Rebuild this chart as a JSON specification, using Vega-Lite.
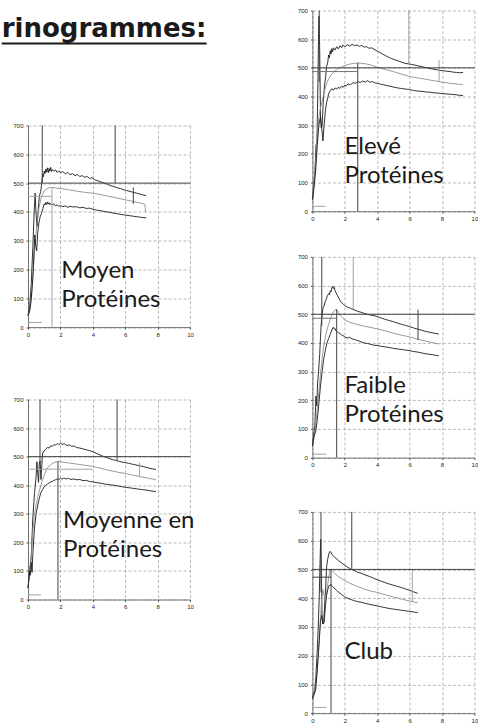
{
"$schema":"https://vega.github.io/schema/vega-lite/v6.json",
"background":"white",
"padding":{"left":0,"top":7.5,"right":0,"bottom":0},
"config":{"view":{"stroke":null},"axis":{"labelFont":"Liberation Sans","labelFontSize":6,"labelColor":"#222","labelFlush":false,"labelOverlap":false,"labelBound":false,"domainColor":"#555","domainWidth":0.8,"tickColor":"#555","tickSize":2,"labelPadding":2,"gridColor":"#8c8c8c","gridDash":[3,2],"gridWidth":0.6},"axisY":{"labelPadding":3}},
"datasets":{
"curves":[
{"p":"P1","s":"u","x":[0,0.1,0.2,0.3,0.38,0.44,0.5,0.56,0.62,0.7,0.78,0.85,0.9,0.95,1.0,1.05,1.1,1.15,1.2,1.25,1.3,1.35,1.4,1.45,1.5,1.6,1.7,1.8,1.9,2.0,2.15,2.3,2.45,2.6,2.75,2.9,3.05,3.2,3.35,3.5,3.65,3.8,3.95,4.1,4.3,4.5,4.7,4.9,5.1,5.3,5.5,5.7,5.9,6.1,6.3,6.5,6.7,6.9,7.1,7.3],"y":[40,70,150,280,400,465,390,350,400,455,470,500,530,522,542,533,549,538,553,536,551,541,555,540,547,541,546,537,543,536,540,532,537,529,533,526,530,523,526,520,523,516,519,512,508,504,500,496,491,488,484,481,477,474,471,468,465,462,459,456]},
{"p":"P1","s":"m","x":[0,0.1,0.2,0.3,0.4,0.5,0.6,0.7,0.8,0.9,1.0,1.15,1.3,1.45,1.7,2.0,2.5,3.0,3.5,4.0,4.5,5.0,5.5,6.0,6.5,7.0,7.22,7.26],"y":[40,55,100,180,260,330,385,420,445,462,473,480,484,485,483,481,477,472,468,465,460,454,448,442,436,430,426,398]},
{"p":"P1","s":"l","x":[0,0.1,0.2,0.3,0.36,0.42,0.48,0.54,0.6,0.68,0.76,0.84,0.92,1.0,1.05,1.1,1.15,1.2,1.25,1.3,1.35,1.4,1.5,1.6,1.7,1.8,1.9,2.0,2.15,2.3,2.45,2.6,2.8,3.0,3.2,3.4,3.6,3.8,4.0,4.25,4.5,4.75,5.0,5.25,5.5,5.75,6.0,6.25,6.5,6.75,7.0,7.3],"y":[40,55,95,170,250,320,280,265,330,365,385,395,412,428,424,433,426,434,427,432,425,429,424,428,421,425,419,422,418,421,416,419,417,418,414,416,412,413,409,406,404,401,399,396,394,391,389,387,385,383,381,379]},
{"p":"P2","s":"u","x":[0,0.1,0.2,0.3,0.4,0.5,0.55,0.6,0.65,0.7,0.75,0.8,0.85,0.9,1.0,1.1,1.2,1.3,1.4,1.5,1.6,1.7,1.8,1.9,2.0,2.1,2.25,2.4,2.55,2.7,2.85,3.0,3.2,3.4,3.6,3.8,4.0,4.2,4.4,4.6,4.8,5.0,5.2,5.4,5.6,5.8,6.0,6.2,6.4,6.6,6.8,7.0,7.2,7.4,7.6,7.9],"y":[40,100,150,290,370,430,482,440,410,478,485,420,468,512,520,527,532,530,538,536,542,540,546,541,548,543,545,539,541,536,537,532,530,527,524,521,517,512,507,502,498,494,490,487,484,481,479,477,474,472,469,467,464,461,458,455]},
{"p":"P2","s":"m","x":[0,0.1,0.2,0.3,0.4,0.5,0.6,0.7,0.8,0.9,1.0,1.1,1.2,1.4,1.6,1.85,2.1,2.5,3.0,3.5,4.0,4.5,5.0,5.5,6.0,6.5,7.0,7.5,7.9],"y":[40,90,150,240,300,330,360,380,400,420,435,450,460,472,479,483,481,478,474,470,466,459,452,446,441,435,429,424,419]},
{"p":"P2","s":"l","x":[0,0.1,0.15,0.2,0.25,0.3,0.4,0.5,0.6,0.7,0.8,0.9,1.0,1.1,1.2,1.3,1.4,1.5,1.6,1.7,1.8,1.9,2.0,2.1,2.2,2.35,2.5,2.65,2.8,3.0,3.2,3.4,3.6,3.8,4.0,4.25,4.5,4.75,5.0,5.25,5.5,5.75,6.0,6.25,6.5,6.75,7.0,7.3,7.6,7.9],"y":[40,100,85,130,95,160,250,300,330,355,375,385,395,400,404,408,411,413,417,419,422,420,424,421,425,422,424,420,422,419,420,416,417,413,412,409,407,404,402,400,398,395,393,391,389,387,385,383,380,378]},
{"p":"P3","s":"u","x":[0,0.08,0.16,0.22,0.28,0.34,0.38,0.41,0.45,0.5,0.55,0.6,0.68,0.75,0.82,0.88,0.95,1.0,1.05,1.1,1.15,1.2,1.25,1.3,1.4,1.5,1.6,1.7,1.8,1.9,2.0,2.15,2.3,2.45,2.6,2.75,2.9,3.05,3.2,3.35,3.5,3.65,3.8,3.95,4.1,4.3,4.5,4.7,4.9,5.1,5.3,5.5,5.7,5.9,6.1,6.3,6.5,6.7,6.9,7.1,7.3,7.5,7.7,7.9,8.1,8.3,8.5,8.7,8.9,9.1,9.3],"y":[40,90,140,230,240,450,620,680,560,330,290,300,390,440,470,505,520,545,535,560,548,567,556,570,562,574,566,577,570,580,574,581,576,582,577,580,575,578,572,574,568,570,565,560,556,549,543,537,532,528,524,520,516,514,512,510,507,505,502,500,497,495,493,491,490,488,487,485,484,483,484]},
{"p":"P3","s":"m","x":[0,0.1,0.2,0.3,0.4,0.5,0.6,0.7,0.8,0.9,1.0,1.2,1.4,1.6,1.8,2.0,2.3,2.6,2.8,3.0,3.3,3.6,4.0,4.5,5.0,5.5,6.0,6.5,7.0,7.5,8.0,8.5,9.0,9.3],"y":[40,100,170,260,330,360,385,410,430,448,462,478,490,498,503,508,513,516,517,516,514,510,502,494,487,478,470,465,460,455,450,446,443,442]},
{"p":"P3","s":"l","x":[0,0.1,0.2,0.3,0.4,0.5,0.58,0.65,0.72,0.8,0.88,0.95,1.0,1.1,1.2,1.3,1.4,1.5,1.6,1.7,1.8,1.9,2.0,2.1,2.2,2.35,2.5,2.65,2.8,2.95,3.1,3.25,3.4,3.55,3.7,3.85,4.0,4.2,4.4,4.6,4.8,5.0,5.25,5.5,5.75,6.0,6.25,6.5,6.75,7.0,7.25,7.5,7.75,8.0,8.25,8.5,8.75,9.0,9.3],"y":[40,80,140,230,300,330,290,245,300,350,380,395,410,420,427,422,430,426,433,428,436,432,440,437,444,441,448,446,452,449,454,450,455,450,452,448,446,443,441,438,436,433,430,428,426,424,421,419,418,416,415,413,412,410,409,408,407,405,403]},
{"p":"P4","s":"u","x":[0,0.08,0.15,0.22,0.27,0.32,0.38,0.45,0.5,0.55,0.6,0.65,0.72,0.8,0.87,0.93,1.0,1.05,1.1,1.15,1.2,1.25,1.3,1.35,1.4,1.5,1.6,1.7,1.8,1.9,2.0,2.15,2.3,2.45,2.6,2.8,3.0,3.2,3.4,3.6,3.8,4.0,4.25,4.5,4.75,5.0,5.25,5.5,5.75,6.0,6.25,6.5,6.75,7.0,7.25,7.5,7.8],"y":[40,80,110,215,180,260,300,360,420,470,500,520,530,545,555,565,572,568,582,578,592,598,590,594,582,570,560,548,540,536,530,525,522,518,515,510,507,503,500,497,495,492,487,482,478,474,469,465,461,457,452,448,444,440,437,434,431]},
{"p":"P4","s":"m","x":[0,0.1,0.2,0.3,0.4,0.5,0.6,0.7,0.8,0.9,1.0,1.1,1.2,1.3,1.4,1.48,1.55,1.65,1.8,2.0,2.3,2.6,3.0,3.5,4.0,4.5,5.0,5.5,6.0,6.5,7.0,7.5,7.8],"y":[40,70,110,170,230,290,345,390,420,445,465,482,497,508,515,517,512,503,492,480,472,467,461,455,449,442,434,427,421,413,406,400,396]},
{"p":"P4","s":"l","x":[0,0.1,0.2,0.3,0.4,0.5,0.6,0.7,0.8,0.9,1.0,1.1,1.2,1.25,1.3,1.35,1.4,1.45,1.5,1.6,1.7,1.8,1.9,2.0,2.15,2.3,2.45,2.6,2.8,3.0,3.2,3.4,3.6,3.8,4.0,4.25,4.5,4.75,5.0,5.25,5.5,5.75,6.0,6.25,6.5,6.75,7.0,7.25,7.5,7.8],"y":[40,75,90,130,190,250,300,345,375,400,415,430,445,452,455,448,450,442,440,436,432,428,425,421,417,420,414,412,408,404,400,398,395,392,391,388,386,384,381,379,377,375,373,370,368,365,362,360,358,355]},
{"p":"P5","s":"u","x":[0,0.08,0.15,0.22,0.3,0.36,0.42,0.47,0.51,0.55,0.6,0.65,0.7,0.76,0.82,0.88,0.94,1.0,1.05,1.1,1.2,1.3,1.45,1.6,1.8,2.0,2.2,2.4,2.6,2.8,3.0,3.25,3.5,3.75,4.0,4.25,4.5,4.75,5.0,5.25,5.5,5.75,6.0,6.25,6.5],"y":[50,70,85,130,220,300,400,520,605,500,330,310,315,380,440,510,535,550,560,563,553,546,539,531,523,514,507,500,496,490,487,481,476,470,464,459,454,449,445,441,437,432,427,422,417]},
{"p":"P5","s":"m","x":[0,0.1,0.2,0.3,0.4,0.5,0.58,0.65,0.72,0.8,0.9,1.0,1.07,1.13,1.2,1.3,1.45,1.6,1.8,2.0,2.3,2.6,3.0,3.5,4.0,4.5,5.0,5.5,6.0,6.5],"y":[50,65,90,150,240,330,400,430,410,395,430,470,492,500,496,490,482,475,468,461,452,445,436,426,420,412,404,397,390,384]},
{"p":"P5","s":"l","x":[0,0.1,0.2,0.3,0.4,0.5,0.58,0.65,0.72,0.8,0.88,0.95,1.0,1.05,1.1,1.15,1.2,1.3,1.4,1.5,1.6,1.8,2.0,2.2,2.4,2.6,2.8,3.0,3.25,3.5,3.75,4.0,4.25,4.5,4.75,5.0,5.25,5.5,5.75,6.0,6.25,6.5],"y":[50,65,80,150,230,320,340,310,315,370,410,430,440,446,443,448,444,438,432,427,421,413,404,399,395,391,388,386,382,379,376,373,370,367,364,362,360,358,356,354,352,350]}
],
"vlines":[
{"p":"P1","x":0.88,"y":500,"y2":700,"k":"dark"},{"p":"P1","x":5.38,"y":500,"y2":700,"k":"dark"},{"p":"P1","x":1.48,"y":0,"y2":485,"k":"gray"},{"p":"P1","x":6.5,"y":427,"y2":485,"k":"dark"},
{"p":"P2","x":0.74,"y":480,"y2":700,"k":"dark"},{"p":"P2","x":5.5,"y":488,"y2":700,"k":"dark"},{"p":"P2","x":1.85,"y":0,"y2":483,"k":"dark"},{"p":"P2","x":6.88,"y":430,"y2":480,"k":"gray"},
{"p":"P3","x":0.42,"y":450,"y2":700,"k":"dark"},{"p":"P3","x":5.95,"y":516,"y2":700,"k":"gray"},{"p":"P3","x":2.8,"y":0,"y2":517,"k":"dark"},{"p":"P3","x":7.82,"y":450,"y2":527,"k":"gray"},
{"p":"P4","x":0.58,"y":460,"y2":700,"k":"dark"},{"p":"P4","x":2.52,"y":518,"y2":700,"k":"gray"},{"p":"P4","x":1.5,"y":0,"y2":517,"k":"dark"},{"p":"P4","x":6.52,"y":410,"y2":516,"k":"dark"},
{"p":"P5","x":0.53,"y":420,"y2":700,"k":"dark"},{"p":"P5","x":2.43,"y":502,"y2":700,"k":"dark"},{"p":"P5","x":1.15,"y":0,"y2":500,"k":"dark"},{"p":"P5","x":6.17,"y":388,"y2":500,"k":"gray"}
],
"hlines":[
{"p":"P1","y":500,"x":0,"x2":10,"k":"dark"},{"p":"P1","y":454,"x":0,"x2":1.48,"k":"gray"},{"p":"P1","y":16,"x":0,"x2":0.85,"k":"gray"},
{"p":"P2","y":500,"x":0,"x2":10,"k":"dark"},{"p":"P2","y":456,"x":0,"x2":4.0,"k":"gray"},{"p":"P2","y":16,"x":0,"x2":0.8,"k":"gray"},
{"p":"P3","y":500,"x":0,"x2":10,"k":"dark"},{"p":"P3","y":487,"x":0,"x2":2.8,"k":"mid"},{"p":"P3","y":17,"x":0,"x2":0.82,"k":"gray"},
{"p":"P4","y":500,"x":0,"x2":10,"k":"dark"},{"p":"P4","y":486,"x":0,"x2":1.5,"k":"mid"},{"p":"P4","y":12,"x":0,"x2":0.85,"k":"gray"},
{"p":"P5","y":500,"x":0,"x2":10,"k":"dark"},{"p":"P5","y":473,"x":0,"x2":1.15,"k":"dark"},{"p":"P5","y":20,"x":0,"x2":0.85,"k":"gray"}
]
},
"spacing":88.4,
"hconcat":[
{"spacing":59,"vconcat":[
 {"width":179,"height":52.7,"data":{"values":[{"t":"rinogrammes:"}]},"layer":[
  {"mark":{"type":"text","align":"left","baseline":"alphabetic","font":"DejaVu Sans","fontSize":26,"fontWeight":"bold","color":"#1a1a1a"},"encoding":{"x":{"datum":-0.147,"type":"quantitative","scale":{"domain":[0,1],"nice":false},"axis":null},"y":{"datum":0.497,"type":"quantitative","scale":{"domain":[0,1],"nice":false},"axis":null},"text":{"field":"t"}}},
  {"mark":{"type":"rule","strokeWidth":2,"color":"#1a1a1a"},"encoding":{"x":{"datum":-0.147,"type":"quantitative","axis":null},"x2":{"datum":0.998},"y":{"datum":0.374,"type":"quantitative","axis":null}}}
 ]},
 {"width":162,"height":201.6,"layer":[
  {"data":{"name":"curves"},"transform":[{"filter":"datum.p==='P1'"},{"flatten":["x","y"]}],"mark":{"type":"line","strokeWidth":0.9},"encoding":{"x":{"field":"x","type":"quantitative","title":null,"scale":{"domain":[0,10],"nice":false},"axis":{"values":[0,2,4,6,8,10]}},"y":{"field":"y","type":"quantitative","title":null,"scale":{"domain":[0,700],"nice":false},"axis":{"values":[0,100,200,300,400,500,600,700]}},"color":{"field":"s","type":"nominal","scale":{"domain":["u","m","l","dark","gray","mid"],"range":["#1c1c1c","#8e8e8e","#1c1c1c","#404040","#a3a3a3","#707070"]},"legend":null}}},
  {"data":{"name":"vlines"},"transform":[{"filter":"datum.p==='P1'"}],"mark":{"type":"rule","strokeWidth":1},"encoding":{"x":{"field":"x","type":"quantitative","title":null,"axis":{"values":[0,2,4,6,8,10]}},"y":{"field":"y","type":"quantitative","title":null,"axis":{"values":[0,100,200,300,400,500,600,700]}},"y2":{"field":"y2"},"color":{"field":"k","type":"nominal","legend":null}}},
  {"data":{"name":"hlines"},"transform":[{"filter":"datum.p==='P1'"}],"mark":{"type":"rule","strokeWidth":1},"encoding":{"x":{"field":"x","type":"quantitative","title":null,"axis":{"values":[0,2,4,6,8,10]}},"x2":{"field":"x2"},"y":{"field":"y","type":"quantitative","title":null,"axis":{"values":[0,100,200,300,400,500,600,700]}},"color":{"field":"k","type":"nominal","legend":null}}},
  {"data":{"values":[{"t":"Moyen\nProtéines"}]},"mark":{"type":"text","align":"left","baseline":"alphabetic","font":"Lato","fontSize":24,"lineBreak":"\n","lineHeight":29,"color":"#1a1a1a"},"encoding":{"x":{"datum":2.05,"type":"quantitative","title":null,"axis":{"values":[0,2,4,6,8,10]}},"y":{"datum":170,"type":"quantitative","title":null,"axis":{"values":[0,100,200,300,400,500,600,700]}},"text":{"field":"t"}}}
 ]},
 {"width":162,"height":200,"layer":[
  {"data":{"name":"curves"},"transform":[{"filter":"datum.p==='P2'"},{"flatten":["x","y"]}],"mark":{"type":"line","strokeWidth":0.9},"encoding":{"x":{"field":"x","type":"quantitative","title":null,"scale":{"domain":[0,10],"nice":false},"axis":{"values":[0,2,4,6,8,10]}},"y":{"field":"y","type":"quantitative","title":null,"scale":{"domain":[0,700],"nice":false},"axis":{"values":[0,100,200,300,400,500,600,700]}},"color":{"field":"s","type":"nominal","scale":{"domain":["u","m","l","dark","gray","mid"],"range":["#1c1c1c","#8e8e8e","#1c1c1c","#404040","#a3a3a3","#707070"]},"legend":null}}},
  {"data":{"name":"vlines"},"transform":[{"filter":"datum.p==='P2'"}],"mark":{"type":"rule","strokeWidth":1},"encoding":{"x":{"field":"x","type":"quantitative","title":null,"axis":{"values":[0,2,4,6,8,10]}},"y":{"field":"y","type":"quantitative","title":null,"axis":{"values":[0,100,200,300,400,500,600,700]}},"y2":{"field":"y2"},"color":{"field":"k","type":"nominal","legend":null}}},
  {"data":{"name":"hlines"},"transform":[{"filter":"datum.p==='P2'"}],"mark":{"type":"rule","strokeWidth":1},"encoding":{"x":{"field":"x","type":"quantitative","title":null,"axis":{"values":[0,2,4,6,8,10]}},"x2":{"field":"x2"},"y":{"field":"y","type":"quantitative","title":null,"axis":{"values":[0,100,200,300,400,500,600,700]}},"color":{"field":"k","type":"nominal","legend":null}}},
  {"data":{"values":[{"t":"Moyenne en\nProtéines"}]},"mark":{"type":"text","align":"left","baseline":"alphabetic","font":"Lato","fontSize":24,"lineBreak":"\n","lineHeight":29,"color":"#1a1a1a"},"encoding":{"x":{"datum":2.16,"type":"quantitative","title":null,"axis":{"values":[0,2,4,6,8,10]}},"y":{"datum":250,"type":"quantitative","title":null,"axis":{"values":[0,100,200,300,400,500,600,700]}},"text":{"field":"t"}}}
 ]}
]},
{"spacing":32.4,"vconcat":[
 {"width":162,"height":200.7,"layer":[
  {"data":{"name":"curves"},"transform":[{"filter":"datum.p==='P3'"},{"flatten":["x","y"]}],"mark":{"type":"line","strokeWidth":0.9},"encoding":{"x":{"field":"x","type":"quantitative","title":null,"scale":{"domain":[0,10],"nice":false},"axis":{"values":[0,2,4,6,8,10]}},"y":{"field":"y","type":"quantitative","title":null,"scale":{"domain":[0,700],"nice":false},"axis":{"values":[0,100,200,300,400,500,600,700]}},"color":{"field":"s","type":"nominal","scale":{"domain":["u","m","l","dark","gray","mid"],"range":["#1c1c1c","#8e8e8e","#1c1c1c","#404040","#a3a3a3","#707070"]},"legend":null}}},
  {"data":{"name":"vlines"},"transform":[{"filter":"datum.p==='P3'"}],"mark":{"type":"rule","strokeWidth":1},"encoding":{"x":{"field":"x","type":"quantitative","title":null,"axis":{"values":[0,2,4,6,8,10]}},"y":{"field":"y","type":"quantitative","title":null,"axis":{"values":[0,100,200,300,400,500,600,700]}},"y2":{"field":"y2"},"color":{"field":"k","type":"nominal","legend":null}}},
  {"data":{"name":"hlines"},"transform":[{"filter":"datum.p==='P3'"}],"mark":{"type":"rule","strokeWidth":1},"encoding":{"x":{"field":"x","type":"quantitative","title":null,"axis":{"values":[0,2,4,6,8,10]}},"x2":{"field":"x2"},"y":{"field":"y","type":"quantitative","title":null,"axis":{"values":[0,100,200,300,400,500,600,700]}},"color":{"field":"k","type":"nominal","legend":null}}},
  {"data":{"values":[{"t":"Elevé\nProtéines"}]},"mark":{"type":"text","align":"left","baseline":"alphabetic","font":"Lato","fontSize":24,"lineBreak":"\n","lineHeight":29,"color":"#1a1a1a"},"encoding":{"x":{"datum":1.98,"type":"quantitative","title":null,"axis":{"values":[0,2,4,6,8,10]}},"y":{"datum":198,"type":"quantitative","title":null,"axis":{"values":[0,100,200,300,400,500,600,700]}},"text":{"field":"t"}}}
 ]},
 {"spacing":41,"vconcat":[
 {"width":162,"height":200.7,"layer":[
  {"data":{"name":"curves"},"transform":[{"filter":"datum.p==='P4'"},{"flatten":["x","y"]}],"mark":{"type":"line","strokeWidth":0.9},"encoding":{"x":{"field":"x","type":"quantitative","title":null,"scale":{"domain":[0,10],"nice":false},"axis":{"values":[0,2,4,6,8,10]}},"y":{"field":"y","type":"quantitative","title":null,"scale":{"domain":[0,700],"nice":false},"axis":{"values":[0,100,200,300,400,500,600,700]}},"color":{"field":"s","type":"nominal","scale":{"domain":["u","m","l","dark","gray","mid"],"range":["#1c1c1c","#8e8e8e","#1c1c1c","#404040","#a3a3a3","#707070"]},"legend":null}}},
  {"data":{"name":"vlines"},"transform":[{"filter":"datum.p==='P4'"}],"mark":{"type":"rule","strokeWidth":1},"encoding":{"x":{"field":"x","type":"quantitative","title":null,"axis":{"values":[0,2,4,6,8,10]}},"y":{"field":"y","type":"quantitative","title":null,"axis":{"values":[0,100,200,300,400,500,600,700]}},"y2":{"field":"y2"},"color":{"field":"k","type":"nominal","legend":null}}},
  {"data":{"name":"hlines"},"transform":[{"filter":"datum.p==='P4'"}],"mark":{"type":"rule","strokeWidth":1},"encoding":{"x":{"field":"x","type":"quantitative","title":null,"axis":{"values":[0,2,4,6,8,10]}},"x2":{"field":"x2"},"y":{"field":"y","type":"quantitative","title":null,"axis":{"values":[0,100,200,300,400,500,600,700]}},"color":{"field":"k","type":"nominal","legend":null}}},
  {"data":{"values":[{"t":"Faible\nProtéines"}]},"mark":{"type":"text","align":"left","baseline":"alphabetic","font":"Lato","fontSize":24,"lineBreak":"\n","lineHeight":29,"color":"#1a1a1a"},"encoding":{"x":{"datum":1.98,"type":"quantitative","title":null,"axis":{"values":[0,2,4,6,8,10]}},"y":{"datum":227,"type":"quantitative","title":null,"axis":{"values":[0,100,200,300,400,500,600,700]}},"text":{"field":"t"}}}
 ]},
 {"width":162,"height":201.3,"layer":[
  {"data":{"name":"curves"},"transform":[{"filter":"datum.p==='P5'"},{"flatten":["x","y"]}],"mark":{"type":"line","strokeWidth":0.9},"encoding":{"x":{"field":"x","type":"quantitative","title":null,"scale":{"domain":[0,10],"nice":false},"axis":{"values":[0,2,4,6,8,10]}},"y":{"field":"y","type":"quantitative","title":null,"scale":{"domain":[0,700],"nice":false},"axis":{"values":[0,100,200,300,400,500,600,700]}},"color":{"field":"s","type":"nominal","scale":{"domain":["u","m","l","dark","gray","mid"],"range":["#1c1c1c","#8e8e8e","#1c1c1c","#404040","#a3a3a3","#707070"]},"legend":null}}},
  {"data":{"name":"vlines"},"transform":[{"filter":"datum.p==='P5'"}],"mark":{"type":"rule","strokeWidth":1},"encoding":{"x":{"field":"x","type":"quantitative","title":null,"axis":{"values":[0,2,4,6,8,10]}},"y":{"field":"y","type":"quantitative","title":null,"axis":{"values":[0,100,200,300,400,500,600,700]}},"y2":{"field":"y2"},"color":{"field":"k","type":"nominal","legend":null}}},
  {"data":{"name":"hlines"},"transform":[{"filter":"datum.p==='P5'"}],"mark":{"type":"rule","strokeWidth":1},"encoding":{"x":{"field":"x","type":"quantitative","title":null,"axis":{"values":[0,2,4,6,8,10]}},"x2":{"field":"x2"},"y":{"field":"y","type":"quantitative","title":null,"axis":{"values":[0,100,200,300,400,500,600,700]}},"color":{"field":"k","type":"nominal","legend":null}}},
  {"data":{"values":[{"t":"Club"}]},"mark":{"type":"text","align":"left","baseline":"alphabetic","font":"Lato","fontSize":24,"color":"#1a1a1a"},"encoding":{"x":{"datum":1.98,"type":"quantitative","title":null,"axis":{"values":[0,2,4,6,8,10]}},"y":{"datum":188,"type":"quantitative","title":null,"axis":{"values":[0,100,200,300,400,500,600,700]}},"text":{"field":"t"}}}
 ]}
 ]}
]}
]
}
